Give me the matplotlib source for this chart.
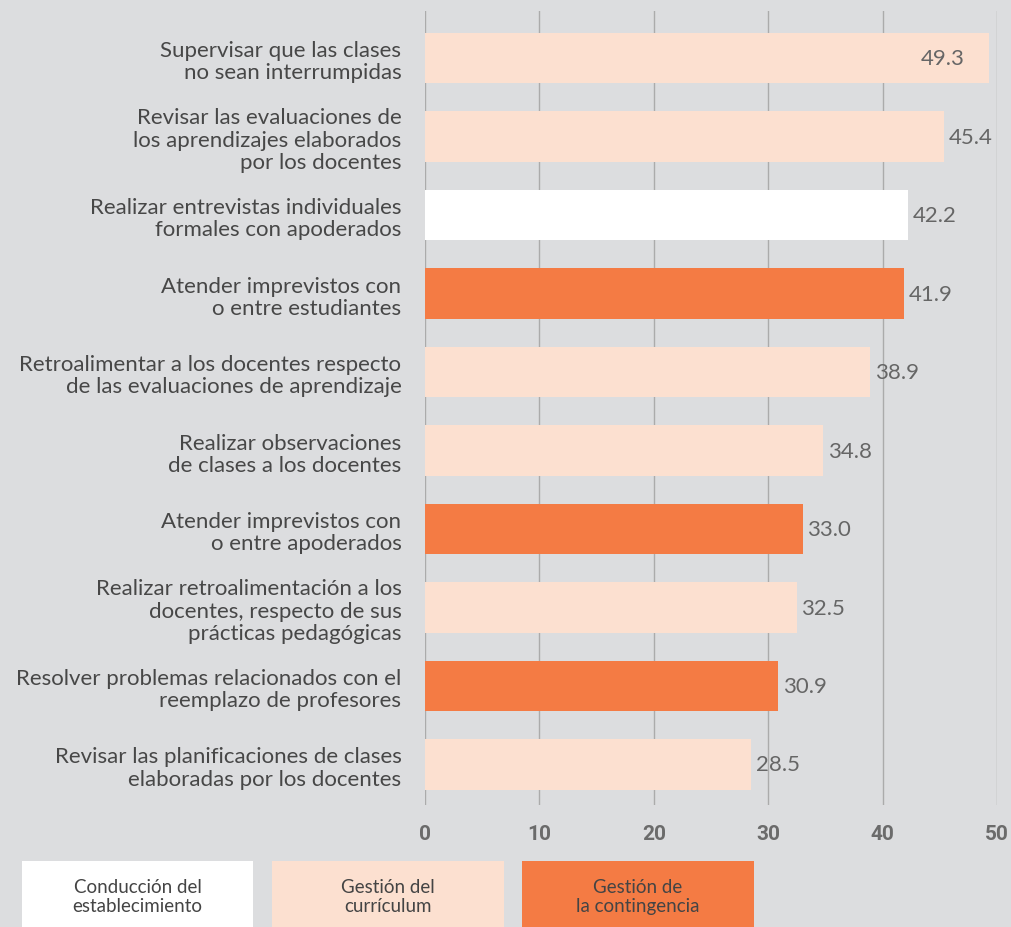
import matplotlib.pyplot as plt
from matplotlib.patches import Rectangle

plt.rcParams['font.family'] = ['Lato', 'DejaVu Sans']

labels = [
    "Supervisar que las clases\nno sean interrumpidas",
    "Revisar las evaluaciones de\nlos aprendizajes elaborados\npor los docentes",
    "Realizar entrevistas individuales\nformales con apoderados",
    "Atender imprevistos con\no entre estudiantes",
    "Retroalimentar a los docentes respecto\nde las evaluaciones de aprendizaje",
    "Realizar observaciones\nde clases a los docentes",
    "Atender imprevistos con\no entre apoderados",
    "Realizar retroalimentación a los\ndocentes, respecto de sus\nprácticas pedagógicas",
    "Resolver problemas relacionados con el\nreemplazo de profesores",
    "Revisar las planificaciones de clases\nelaboradas por los docentes",
]
values = [49.3, 45.4, 42.2, 41.9, 38.9, 34.8, 33.0, 32.5, 30.9, 28.5]
groups = [1, 1, 0, 2, 1, 1, 2, 1, 2, 1]
xticks = [0, 10, 20, 30, 40, 50]

group_names = ["Conducción del\nestablecimiento", "Gestión del\ncurrículum", "Gestión de\nla contingencia"]
group_colors = ["#ffffff", "#fce0d0", "#f47b44"]

bg = "#dcdddf"
txt = "#474747"

fig = plt.figure(figsize=(10.11, 9.28), dpi=100, facecolor=bg)
W, H = 1011, 928
ax = fig.add_axes([425 / W, 1 - 806 / H, (997 - 425) / W, (806 - 12) / H])
ax.set_facecolor(bg)

ypos = list(range(len(values)))
ax.barh(ypos, values, height=0.64, color=[group_colors[g] for g in groups], zorder=2)
ax.set_xlim(0, 50)
ax.set_ylim(9.516, -0.599)

ax.set_xticks(xticks, labels=[str(t) for t in xticks], fontweight='bold',
              fontsize=15, color='#6b6b6b', family=['Roboto', 'DejaVu Sans'])
ax.grid(axis='x', color='#ababab', linewidth=1.0, zorder=1)
for s in ax.spines.values():
    s.set_visible(False)
ax.tick_params(axis='x', length=0, pad=14)
ax.set_yticks(ypos)
ax.set_yticklabels(labels, fontsize=16, color=txt, linespacing=1.13)
ax.tick_params(axis='y', length=0, pad=17)

for y, v in zip(ypos, values):
    if v > 47:
        ax.text(v - 2.1, y, f"{v:.1f}", va='center', ha='right', fontsize=16,
                color='#666666', zorder=3)
    else:
        ax.text(v + 0.4, y, f"{v:.1f}", va='center', ha='left', fontsize=16,
                color='#666666', zorder=3)

# legend boxes
boxes = [(22, 253), (272, 504), (522, 754)]
for (x0, x1), name, col in zip(boxes, group_names, group_colors):
    fig.patches.append(Rectangle((x0 / W, 0), (x1 - x0) / W, (928 - 862) / H,
                                 transform=fig.transFigure, facecolor=col, edgecolor='none'))
    fig.text((x0 + x1) / 2 / W, 1 - 897 / H, name, ha='center', va='center',
             fontsize=13.5, color='#444444', linespacing=1.13)

fig.savefig("out.png", dpi=100, facecolor=bg)
